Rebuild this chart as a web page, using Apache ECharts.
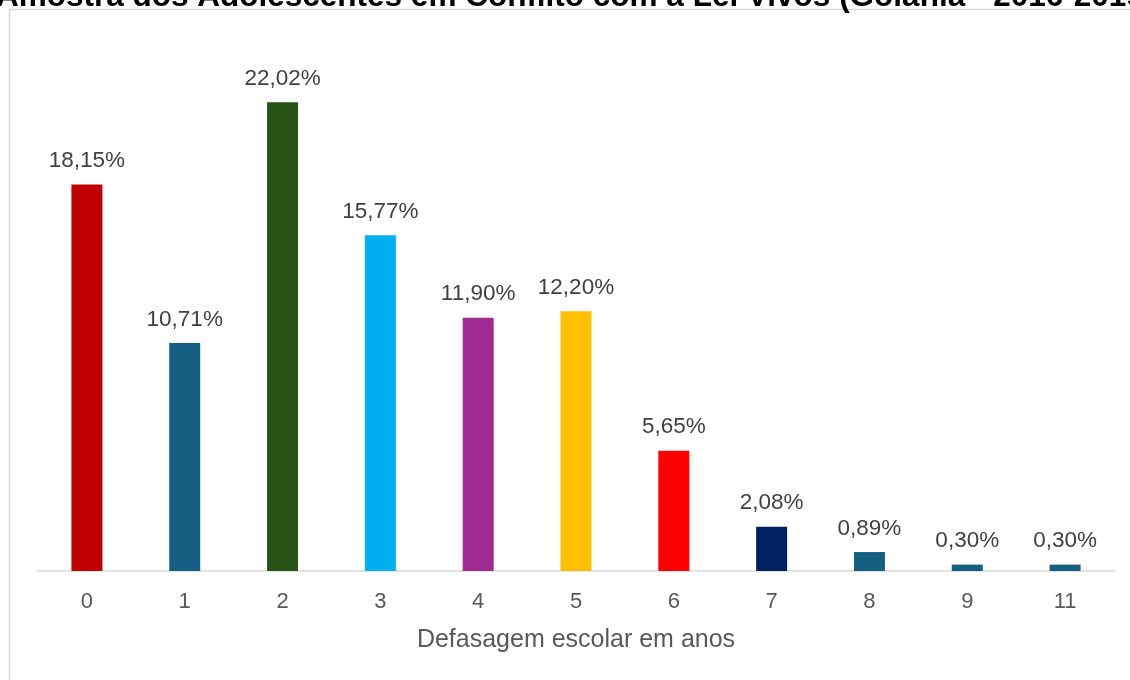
<!DOCTYPE html>
<html>
<head>
<meta charset="utf-8">
<script src="https://cdn.jsdelivr.net/npm/echarts@6/dist/echarts.min.js"></script>
<style>
  html, body { margin: 0; padding: 0; background: #fff; }
  #chart { width: 1130px; height: 680px; }
</style>
</head>
<body>
<div id="chart"></div>
<script>
const TITLE = "Amostra dos Adolescentes em Conflito com a Lei Vivos (Goiânia - 2016-2019)";
const CATEGORIES = ["0", "1", "2", "3", "4", "5", "6", "7", "8", "9", "11"];
const VALUES = [18.15, 10.71, 22.02, 15.77, 11.90, 12.20, 5.65, 2.08, 0.89, 0.30, 0.30];
const BAR_COLORS = ["#c00000", "#156082", "#275317", "#00b0f0", "#a02b93", "#ffc000", "#ff0000", "#002060", "#156082", "#156082", "#156082"];
const X_NAME = "Defasagem escolar em anos";

function formatPct(value) {
  return `${value.toFixed(2).replace(".", ",")}%`;
}

const chart = echarts.init(document.getElementById("chart"), null, { renderer: "canvas" });

chart.setOption({
  animation: false,
  textStyle: { fontFamily: "'Liberation Sans', Arial, sans-serif" },
  graphic: [
    {
      type: "rect",
      shape: { x: 9.5, y: 9.5, width: 1200, height: 700 },
      style: { fill: "none", stroke: "#d9d9d9", lineWidth: 1.5 },
      z: -1
    },
    {
      type: "text",
      left: -4,
      top: -19,
      style: {
        text: TITLE,
        font: "bold 31.5px 'Liberation Sans', Arial, sans-serif",
        fill: "#000"
      }
    }
  ],
  grid: { left: 38, right: 16, top: 60, bottom: 109 },
  xAxis: {
    type: "category",
    data: CATEGORIES,
    name: X_NAME,
    nameLocation: "middle",
    nameGap: 57,
    nameTextStyle: { color: "#595959", fontSize: 25 },
    axisLine: { lineStyle: { color: "#d9d9d9", width: 1.5 } },
    axisTick: { show: false },
    axisLabel: { color: "#595959", fontSize: 22, margin: 20 }
  },
  yAxis: {
    type: "value",
    min: 0,
    max: 24,
    show: false
  },
  series: [{
    type: "bar",
    barWidth: 31,
    data: VALUES.map((value, i) => ({ value, itemStyle: { color: BAR_COLORS[i] } })),
    label: {
      show: true,
      position: "top",
      distance: 12,
      color: "#404040",
      fontSize: 22.5,
      formatter: (p) => formatPct(p.value)
    }
  }]
});
</script>
</body>
</html>
